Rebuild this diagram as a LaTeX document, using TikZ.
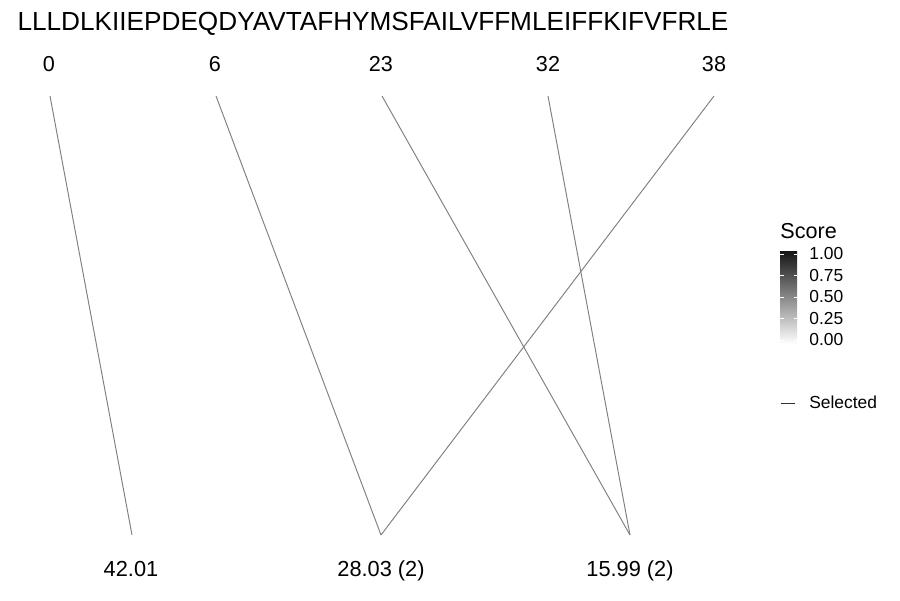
\documentclass[tikz,border=0pt]{standalone}
\usepackage{fontspec}
\setmainfont{Liberation Sans}
\usetikzlibrary{positioning}

\begin{document}
\begin{tikzpicture}[x=0.02cm, y=-0.02cm,
        link/.style={draw=gray, line width=0.55pt},
        cutlabel/.style={anchor=base, font=\fontsize{12.3}{14}\selectfont},
        peak/.style={anchor=base, font=\fontsize{12.4}{14}\selectfont},
        key/.style={anchor=west, inner sep=0pt, font=\fontsize{9.9}{11}\selectfont}]
            \useasboundingbox (0,0) rectangle (900,600);
            % sequence and cut positions
            \node[anchor=base, font=\fontsize{14.9}{17}\selectfont] (seq) at (373,30) {LLLDLKIIEPDEQDYAVTAFHYMSFAILVFFMLEIFFKIFVFRLE};
            \node[cutlabel] (p0) at (49,71) {0};
            \node[cutlabel] (p6) at (215,71) {6};
            \node[cutlabel] (p23) at (381,71) {23};
            \node[cutlabel] (p32) at (548,71) {32};
            \node[cutlabel] (p38) at (714,71) {38};
            \coordinate (t0) at (50,96);
            \coordinate (t6) at (216,96);
            \coordinate (t23) at (382,96);
            \coordinate (t32) at (548,96);
            \coordinate (t38) at (714,96);
            % fragment masses
            \coordinate (b1) at (132,535);
            \coordinate (b2) at (381,535);
            \coordinate (b3) at (630,535);
            \node[peak] (m1) at (131,576) {42.01};
            \node[peak] (m2) at (381,576) {28.03 (2)};
            \node[peak] (m3) at (630,576) {15.99 (2)};
            \draw[link] (t0) -- (b1);
            \draw[link] (t6) -- (b2);
            \draw[link] (t38) -- (b2);
            \draw[link] (t23) -- (b3);
            \draw[link] (t32) -- (b3);
            % legend
            \node[anchor=base west, font=\fontsize{12.3}{14}\selectfont, inner sep=0pt] (score) at (780,238) {Score};
            \shade[top color=black!92, bottom color=white] (780,251) rectangle (797,344);
            \foreach \yy in {254,275.5,297,318.5,340} {
                \draw[white, line width=0.4pt] (780,\yy) -- (783.5,\yy);
                \draw[white, line width=0.4pt] (793.5,\yy) -- (797,\yy);
            }
            \node[key] (k100) at (809,254) {1.00};
            \node[key] (k075) at (809,275.5) {0.75};
            \node[key] (k050) at (809,297) {0.50};
            \node[key] (k025) at (809,318.5) {0.25};
            \node[key] (k000) at (809,340) {0.00};
            \coordinate (sa) at (781,403);
            \coordinate (sb) at (795,403);
            \draw[draw=gray!40!black, line width=0.55pt] (sa) -- (sb);
            \node[key] (sel) at (809,402) {Selected};
        \end{tikzpicture}
\end{document}
